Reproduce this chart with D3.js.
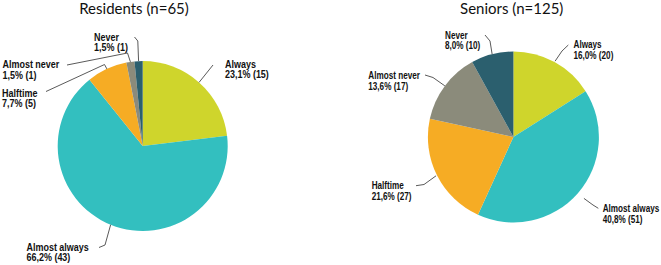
<!DOCTYPE html>
<html>
<head>
<meta charset="utf-8">
<script src="https://cdn.jsdelivr.net/npm/d3@7"></script>
<style>
  html, body { margin: 0; padding: 0; background: #fff; }
  svg { display: block; }
</style>
</head>
<body>
<div id="app"></div>
<script>
'use strict'

// data
const categories = ['Always', 'Almost always', 'Halftime', 'Almost never', 'Never']
const residents = [15, 43, 5, 1, 1]
const seniors = [20, 51, 27, 17, 10]
const titles = ['Residents (n=65)', 'Seniors (n=125)']
const colors = ['#cfd52c', '#33bfbf', '#f6ac24', '#8b8b7b', '#2b5f6e']

const width = 661
const height = 265

// layout per pie: center, radius, label anchors, leader start / elbow points
// labels use a narrow bold face, faked with a horizontal squeeze (sx)
const panels = [
  {
    values: residents, title: titles[0], cx: 142.7, cy: 146, r: 85, titleX: 134, sx: 0.88,
    labels: [
      { x: 225, y: 67.5, start: [213, 65], elbow: null, gap: 0 },
      { x: 26.5, y: 250.5, start: [99, 247.5], elbow: [105, 245], gap: 0 },
      { x: 2, y: 96.5, start: [46, 91.5], elbow: [104.5, 64.5], gap: 0 },
      { x: 2.5, y: 68, start: [67, 65], elbow: [127.5, 53], gap: 0 },
      { x: 94, y: 40.5, start: [134.5, 37], elbow: [137.8, 41], gap: 0 }
    ]
  },
  {
    values: seniors, title: titles[1], cx: 513.4, cy: 137, r: 85.5, titleX: 511.7, sx: 0.8,
    labels: [
      { x: 573.5, y: 48.3, start: [568.3, 45], elbow: [562, 51], gap: 1 },
      { x: 602.7, y: 212.3, start: [598.3, 208.3], elbow: [593, 205], gap: 8 },
      { x: 371.7, y: 189, start: [416, 185.7], elbow: [424, 184.5], gap: 1 },
      { x: 368.3, y: 79, start: [425, 75], elbow: [433, 77.5], gap: 0 },
      { x: 445, y: 38.5, start: [485, 35], elbow: [490, 41], gap: 0 }
    ]
  }
]

const svg = d3.select('#app').append('svg')
  .attr('width', width)
  .attr('height', height)

const pie = d3.pie().sort(null).value(d => d)
const fmt = v => v.toFixed(1).replace('.', ',')
const line = d3.line()

panels.forEach(p => {
  const total = d3.sum(p.values)
  const arcs = pie(p.values)
  const arc = d3.arc().innerRadius(0).outerRadius(p.r)

  svg.append('text')
    .attr('x', p.titleX)
    .attr('y', 14)
    .attr('text-anchor', 'middle')
    .style('font-family', 'Lato, "Open Sans", sans-serif')
    .style('font-size', '15px')
    .style('fill', '#111')
    .text(p.title)

  const g = svg.append('g')
    .attr('transform', `translate(${p.cx},${p.cy})`)

  g.selectAll('path.slice')
    .data(arcs)
    .enter().append('path')
    .attr('class', 'slice')
    .attr('d', arc)
    .attr('fill', (d, i) => colors[i])

  // leader lines: label -> elbow -> edge of slice at its mid angle
  svg.selectAll(null)
    .data(arcs)
    .enter().append('path')
    .attr('d', (d, i) => {
      const lab = p.labels[i]
      const a = (d.startAngle + d.endAngle) / 2
      const rr = p.r + lab.gap
      const end = [p.cx + rr * Math.sin(a), p.cy - rr * Math.cos(a)]
      const pts = lab.elbow ? [lab.start, lab.elbow, end] : [lab.start, end]
      return line(pts)
    })
    .attr('fill', 'none')
    .attr('stroke', '#5a5a5a')
    .attr('stroke-width', 1)

  const txt = svg.selectAll(null)
    .data(arcs)
    .enter().append('text')
    .attr('transform', (d, i) => `translate(${p.labels[i].x},${p.labels[i].y}) scale(${p.sx},1)`)
    .style('font-family', '"Liberation Sans", Arial, sans-serif')
    .style('font-weight', 'bold')
    .style('font-size', '10.2px')
    .style('fill', '#111')

  txt.append('tspan')
    .attr('x', 0)
    .text((d, i) => categories[i])
  txt.append('tspan')
    .attr('x', 0)
    .attr('dy', 10.6)
    .text(d => `${fmt(d.value / total * 100)}% (${d.value})`)
})
</script>
</body>
</html>
